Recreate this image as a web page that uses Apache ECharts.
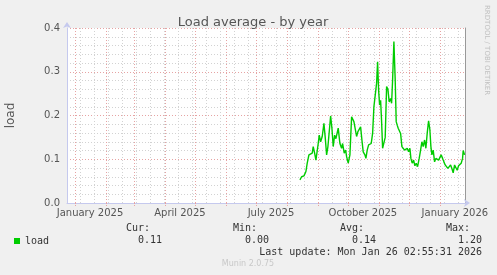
<!DOCTYPE html>
<html><head><meta charset="utf-8">
<script src="https://cdn.jsdelivr.net/npm/echarts@6/dist/echarts.min.js"></script>
<style>html,body{margin:0;padding:0;background:#f0f0f0;}#c{width:497px;height:275px;}</style>
</head><body><div id="c"></div>
<script>
// days since 2025-01-01 (UTC)
const dayOffsets = [225,226.7,229,231,232.3,234,235.7,237.3,238.3,239.7,241,241.7,243.3,244.3,245.7,247.3,249,250.3,251.7,253,254.3,255.7,257,258.3,259.7,261,263.3,265,266.7,267.7,269.3,270.7,271.7,273.3,275,276.7,277.7,279,280.3,281.7,283,284.3,285.7,287,288.3,290,291,292.3,293.7,295,296.3,297.7,299,300.3,301.7,302.7,303.7,304.7,305.7,306.7,307.7,309,310.3,311.7,313,314.3,315.7,316.7,317.7,319,319.7,320.3,321.3,322.3,323.3,324.3,325.7,327,328.3,329.7,331,332.3,333.7,335,336,337.3,338.7,340,341.3,342.7,344.3,345.7,347,348.3,349.7,351,352.3,353.7,355,356,357,358.3,359.7,361,362.3,363.7,365,366.3,367.7,369,370.3,371.7,373,374.3,375.7,377,378.3,379.7,381,382.3,383.7,385,386.3,387.7,388.3,389.7];
const loadValues = [0.053,0.06,0.062,0.072,0.091,0.11,0.107,0.114,0.129,0.114,0.098,0.095,0.136,0.155,0.14,0.152,0.182,0.15,0.11,0.129,0.133,0.199,0.171,0.129,0.155,0.147,0.171,0.136,0.125,0.136,0.114,0.121,0.106,0.091,0.11,0.197,0.201,0.186,0.19,0.152,0.163,0.16,0.174,0.144,0.117,0.11,0.102,0.121,0.133,0.13,0.136,0.159,0.22,0.224,0.274,0.323,0.258,0.224,0.235,0.186,0.125,0.121,0.15,0.266,0.26,0.231,0.239,0.228,0.281,0.369,0.373,0.281,0.186,0.178,0.171,0.174,0.159,0.129,0.125,0.121,0.117,0.125,0.117,0.125,0.102,0.091,0.098,0.085,0.091,0.083,0.102,0.121,0.14,0.129,0.144,0.125,0.159,0.188,0.167,0.129,0.11,0.121,0.094,0.102,0.104,0.098,0.102,0.11,0.102,0.094,0.087,0.083,0.079,0.083,0.087,0.079,0.069,0.087,0.083,0.075,0.085,0.087,0.091,0.102,0.12,0.11];
const xLabelNames = ['January 2025','April 2025','July 2025','October 2025','January 2026'];
const xLabelMonths = [[2025,0],[2025,3],[2025,6],[2025,9],[2026,0]];
const yTicks = [0, 0.1, 0.2, 0.3, 0.4];
const statNames = ['Cur:','Min:','Avg:','Max:'];
const statValues = ['0.11','0.00','0.14','1.20'];
const lastUpdate = 'Last update: Mon Jan 26 02:55:31 2026';
const seriesName = 'load';

const DAY = 86400000, EPOCH = Date.UTC(2025,0,1);
const toDay = t => (t - EPOCH) / DAY;
const xMin = toDay(Date.UTC(2024,11,24));
const xMax = toDay(Date.UTC(2026,0,26,2,55,31));
const monthStarts = [];
for (let m = 0; m <= 13; m++) { const d = toDay(Date.UTC(2025,m,1)); if (d <= xMax) monthStarts.push(d); }
const biweekly = [];
for (let d = toDay(Date.UTC(2025,0,6)); d <= xMax; d += 14) biweekly.push(d);
const labelDays = xLabelMonths.map(([y,m]) => toDay(Date.UTC(y,m,1)) + 15);

const RED = '#e6a3a3', GRAY = '#d2d2d2', AXIS = '#c5c9ee';
const chart = echarts.init(document.getElementById('c'), null, {renderer:'canvas'});
const mono = '"DejaVu Sans Mono", monospace';
const graphics = [];
statNames.forEach((n,i) => {
  const xr = [150,257,364,470][i];
  graphics.push({type:'text', x: xr, y: 228, style:{text:n, font:'10px '+mono, fill:'#333', align:'right', verticalAlign:'middle'}});
  graphics.push({type:'text', x: xr+12, y: 240, style:{text:statValues[i], font:'10px '+mono, fill:'#333', align:'right', verticalAlign:'middle'}});
});
graphics.push({type:'text', x: 482, y: 252, style:{text:lastUpdate, font:'10px '+mono, fill:'#333', align:'right', verticalAlign:'middle'}});
graphics.push({type:'text', x: 248, y: 264, style:{text:'Munin 2.0.75', font:'8px "DejaVu Sans"', fill:'#c8c8c8', align:'center', verticalAlign:'middle'}});
graphics.push({type:'text', x: 487, y: 5, rotation: -Math.PI/2, style:{text:'RRDTOOL / TOBI OETIKER', font:'7px "DejaVu Sans"', fill:'#c0c0c0', align:'left', verticalAlign:'middle'}});

chart.setOption({
  animation:false,
  backgroundColor:'#f0f0f0',
  title:{text:'Load average - by year', left:248, textAlign:'center', top:11, textStyle:{fontFamily:'DejaVu Sans', fontSize:13, fontWeight:'normal', color:'#555'}},
  grid:{left:67, right:32, top:28, bottom:72, show:true, backgroundColor:'#fff', borderWidth:0, containLabel:false, outerBoundsMode:'none'},
  legend:{data:[seriesName], left:9, top:231, itemWidth:6, itemHeight:6, itemGap:6, icon:'rect',
    textStyle:{fontFamily:'DejaVu Sans Mono', fontSize:10, color:'#333'}},
  xAxis:{type:'value', min:xMin, max:xMax,
    axisLine:{show:true, lineStyle:{color:AXIS, width:1}, symbol:['none','arrow'], symbolSize:[6,6], symbolOffset:[0,5], onZero:false},
    axisTick:{show:true, customValues:monthStarts, length:3, lineStyle:{color:RED, type:[1,1]}},
    axisLabel:{customValues:labelDays, formatter:v => { const i = labelDays.findIndex(d => Math.abs(d-v)<0.01); return i>=0 ? xLabelNames[i] : ''; },
      fontFamily:'DejaVu Sans', fontSize:10, color:'#555', margin:5, showMinLabel:true, showMaxLabel:true},
    splitLine:{show:false}},
  yAxis:[{type:'value', min:0, max:0.4, interval:0.1, name:'load', nameLocation:'middle', nameGap:50,
    nameTextStyle:{fontFamily:'DejaVu Sans', fontSize:12, color:'#555'},
    axisLine:{show:true, onZero:false, lineStyle:{color:AXIS}, symbol:['none','arrow'], symbolSize:[6,6], symbolOffset:[0,6]},
    axisTick:{show:false},
    axisLabel:{formatter:v => yTicks.includes(+v.toFixed(2)) ? v.toFixed(1) : '', fontFamily:'DejaVu Sans', fontSize:10, color:'#555', margin:7},
    splitLine:{show:true, lineStyle:{color:RED, type:[1,2]}},
    minorSplitLine:{show:true, lineStyle:{color:GRAY, type:[1,2]}},
    minorTick:{show:false, splitNumber:5}},
   {type:'value', min:0, max:0.4, position:'right', axisLine:{show:true, onZero:false, lineStyle:{color:'#999'}}, axisLabel:{show:false}, axisTick:{show:false}, splitLine:{show:false}}],
  series:[
    {type:'line', data:[], silent:true, z:1,
      markLine:{silent:true, symbol:'none', label:{show:false}, animation:false,
        data: biweekly.map(d => ({xAxis:d, lineStyle:{color:GRAY, type:[1,2], width:1}}))
          .concat(monthStarts.map(d => ({xAxis:d, lineStyle:{color:RED, type:[1,2], width:1}})))}},
    {name:seriesName, type:'line', z:5, showSymbol:false, symbol:'none', color:'#00cc00',
      lineStyle:{color:'#00cc00', width:1.4},
      data: dayOffsets.map((d,i) => [d, loadValues[i]])}
  ],
  graphic: graphics
});
</script></body></html>
